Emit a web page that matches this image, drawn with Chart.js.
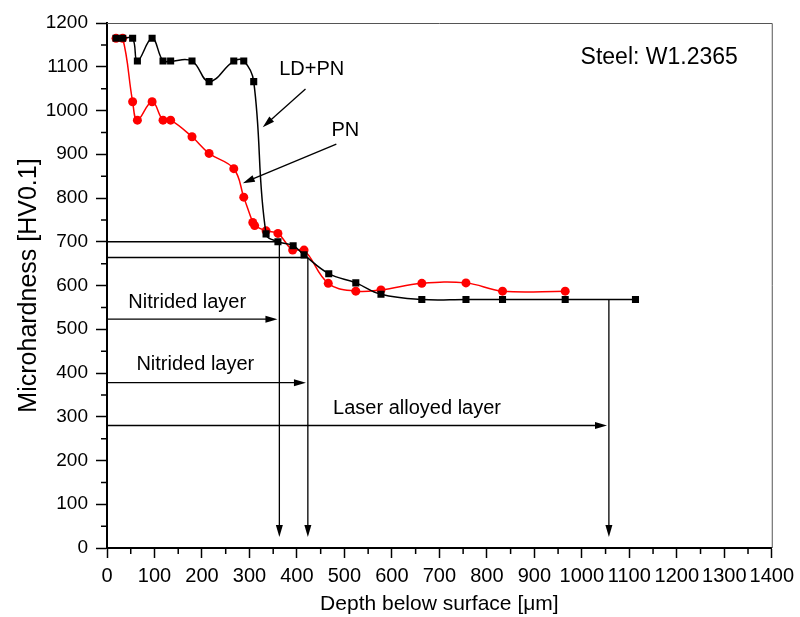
<!DOCTYPE html>
<html>
<head>
<meta charset="utf-8">
<script src="https://cdn.jsdelivr.net/npm/chart.js@4.4.1/dist/chart.umd.min.js"></script>
<style>
  html, body { margin: 0; padding: 0; background: #fff; }
  #wrap { width: 800px; height: 617px; }
</style>
</head>
<body>
<div id="wrap"><canvas id="hvChart"></canvas></div>
<script>
// LD+PN series (black squares)
const depthLdPn = [19, 33, 54, 64, 95, 118, 134, 179, 215, 267, 288, 309, 335, 360, 392, 415, 467, 524, 577, 663, 756, 833, 965, 1113];
const hvLdPn = [1165, 1165, 1165, 1113, 1165, 1113, 1113, 1113, 1066, 1113, 1113, 1066, 718, 700, 691, 670, 627, 606, 580, 568, 568, 568, 568, 568];

// PN series (red circles)
const depthPn = [19, 33, 54, 64, 95, 118, 134, 179, 215, 267, 288, 307, 311, 335, 360, 391, 415, 466, 524, 577, 663, 756, 833, 965];
const hvPn = [1165, 1165, 1020, 978, 1020, 978, 978, 940, 902, 867, 802, 744, 737, 725, 719, 681, 681, 605, 587, 590, 605, 606, 587, 587];

// axis ticks
const xTicks = [0, 100, 200, 300, 400, 500, 600, 700, 800, 900, 1000, 1100, 1200, 1300, 1400];
const yTicks = [0, 100, 200, 300, 400, 500, 600, 700, 800, 900, 1000, 1100, 1200];

// layer depth markers (vertical arrows down to the axis)
const markerDepth = [363, 423, 1057];
const markerHv = [700, 664, 568];
// layer arrows + labels
const layerNames = ['Nitrided layer', 'Nitrided layer', 'Laser alloyed layer'];
const layerArrowHv = [523, 378, 280];
const layerLabelX = [169, 186, 653];
const layerLabelHv = [561, 420, 319];

// series callouts
const calloutText = ['LD+PN', 'PN'];
const calloutTextX = [431, 502];
const calloutTextY = [1093, 955];
const calloutFrom = [[418, 1049], [483, 923]];
const calloutTo = [[328, 962], [286, 834]];

const FONT = "'Liberation Sans', Arial, sans-serif";

function toPoints(xs, ys) {
  return xs.map((v, i) => ({ x: v, y: ys[i] }));
}

const guidePlugin = {
  id: 'guides',
  beforeDatasetsDraw(chart) {
    const { ctx, scales: { x, y } } = chart;
    const px = v => x.getPixelForValue(v);
    const py = v => y.getPixelForValue(v);

    const line = (x1, y1, x2, y2) => {
      ctx.beginPath();
      ctx.moveTo(px(x1), py(y1));
      ctx.lineTo(px(x2), py(y2));
      ctx.stroke();
    };
    const arrow = (x1, y1, x2, y2) => {
      const ax = px(x1), ay = py(y1), bx = px(x2), by = py(y2);
      const ang = Math.atan2(by - ay, bx - ax);
      const len = 12, half = 3.5;
      ctx.beginPath();
      ctx.moveTo(ax, ay);
      ctx.lineTo(bx - Math.cos(ang) * len * 0.8, by - Math.sin(ang) * len * 0.8);
      ctx.stroke();
      ctx.beginPath();
      ctx.moveTo(bx, by);
      ctx.lineTo(bx - Math.cos(ang) * len - Math.sin(ang) * half, by - Math.sin(ang) * len + Math.cos(ang) * half);
      ctx.lineTo(bx - Math.cos(ang) * len + Math.sin(ang) * half, by - Math.sin(ang) * len - Math.cos(ang) * half);
      ctx.closePath();
      ctx.fill();
    };

    ctx.save();
    ctx.strokeStyle = '#000';
    ctx.fillStyle = '#000';
    ctx.lineWidth = 1.3;

    // horizontal guides to the two nitrided depth markers
    line(0, markerHv[0], markerDepth[0], markerHv[0]);
    line(0, markerHv[1], markerDepth[1], markerHv[1]);

    // vertical arrows down to the depth axis
    markerDepth.forEach((d, i) => arrow(d, markerHv[i], d, 25));

    // layer arrows
    markerDepth.forEach((d, i) => arrow(0, layerArrowHv[i], d - 4, layerArrowHv[i]));

    // callout arrows
    calloutFrom.forEach((f, i) => arrow(f[0], f[1], calloutTo[i][0], calloutTo[i][1]));

    // texts
    ctx.textAlign = 'center';
    ctx.textBaseline = 'middle';
    ctx.font = '20px ' + FONT;
    layerNames.forEach((t, i) => ctx.fillText(t, px(layerLabelX[i]), py(layerLabelHv[i])));
    calloutText.forEach((t, i) => ctx.fillText(t, px(calloutTextX[i]), py(calloutTextY[i])));
    ctx.font = '23px ' + FONT;
    ctx.fillText('Steel: W1.2365', px(1163), py(1120));
    ctx.restore();
  },
  afterDraw(chart) {
    const { ctx, chartArea: a, scales: { x, y } } = chart;
    ctx.save();
    // box top + right
    ctx.strokeStyle = '#555';
    ctx.lineWidth = 1;
    ctx.beginPath();
    ctx.moveTo(a.left, a.top + 0.5);
    ctx.lineTo(a.right + 0.5, a.top + 0.5);
    ctx.lineTo(a.right + 0.5, a.bottom);
    ctx.stroke();
    // minor ticks
    ctx.strokeStyle = '#000';
    ctx.lineWidth = 1.5;
    ctx.beginPath();
    for (let v = 50; v < 1400; v += 100) {
      const p = x.getPixelForValue(v);
      ctx.moveTo(p, a.bottom);
      ctx.lineTo(p, a.bottom + 6);
    }
    for (let v = 50; v < 1200; v += 100) {
      const p = y.getPixelForValue(v);
      ctx.moveTo(a.left, p);
      ctx.lineTo(a.left - 6, p);
    }
    ctx.stroke();
    ctx.restore();
  }
};

new Chart(document.getElementById('hvChart').getContext('2d'), {
  type: 'scatter',
  data: {
    datasets: [
      {
        label: 'LD+PN',
        data: toPoints(depthLdPn, hvLdPn),
        showLine: true,
        tension: 0.4,
        borderColor: '#000',
        borderWidth: 1.5,
        backgroundColor: '#000',
        pointStyle: 'rect',
        pointRadius: 5,
        pointBorderWidth: 0
      },
      {
        label: 'PN',
        data: toPoints(depthPn, hvPn),
        showLine: true,
        tension: 0.4,
        borderColor: '#ff0000',
        borderWidth: 1.5,
        backgroundColor: '#ff0000',
        pointStyle: 'circle',
        pointRadius: 4.5,
        pointBorderWidth: 0
      }
    ]
  },
  plugins: [guidePlugin],
  options: {
    responsive: true,
    maintainAspectRatio: false,
    animation: false,
    layout: { padding: { left: 0, right: 26, top: 23, bottom: 0 } },
    plugins: {
      legend: { display: false },
      tooltip: { enabled: false }
    },
    scales: {
      x: {
        type: 'linear',
        min: 0,
        max: 1400,
        afterBuildTicks: s => { s.ticks = xTicks.map(v => ({ value: v })); },
        afterFit: s => { s.height = 69; },
        grid: { drawOnChartArea: false, tickLength: 10, tickWidth: 1.5, tickColor: '#000' },
        border: { color: '#000', width: 2 },
        ticks: {
          autoSkip: false,
          maxRotation: 0,
          padding: 6,
          color: '#000',
          font: { family: FONT, size: 20 },
          callback: v => String(v)
        },
        title: {
          display: true,
          text: 'Depth below surface [μm]',
          color: '#000',
          font: { family: FONT, size: 21 },
          padding: { top: 0, bottom: 0 }
        }
      },
      y: {
        type: 'linear',
        min: 0,
        max: 1200,
        afterBuildTicks: s => { s.ticks = yTicks.map(v => ({ value: v })); },
        afterFit: s => { s.width = 107; },
        grid: { drawOnChartArea: false, tickLength: 11, tickWidth: 1.5, tickColor: '#000' },
        border: { color: '#000', width: 2 },
        ticks: {
          padding: 8,
          color: '#000',
          font: { family: FONT, size: 19 },
          callback: v => String(v)
        },
        title: {
          display: true,
          text: 'Microhardness [HV0.1]',
          color: '#000',
          font: { family: FONT, size: 25 },
          padding: { top: 14, bottom: 0 }
        }
      }
    }
  }
});
</script>
</body>
</html>
